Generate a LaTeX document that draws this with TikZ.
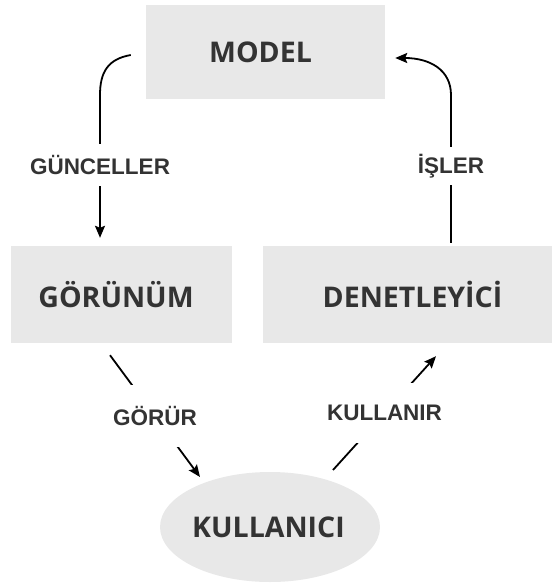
\documentclass[tikz,border=0pt]{standalone}
\usepackage{fontspec}
\setmainfont{Liberation Sans}
\newfontfamily\boxfont{Open Sans}
\usetikzlibrary{arrows.meta,shapes.geometric}
\definecolor{boxgray}{HTML}{E8E8E8}
\definecolor{txtgray}{HTML}{333333}
\begin{document}
\begin{tikzpicture}[x=1bp,y=-1bp,
  box/.style={fill=boxgray, draw=none, text=txtgray, inner sep=0pt,
    font=\boxfont\bfseries\fontsize{28.5bp}{32bp}\selectfont},
  lbl/.style={fill=white, text=txtgray, inner sep=0pt,
    font=\bfseries\fontsize{22.5bp}{26bp}\selectfont},
  conn/.style={line width=1.8bp, -{Stealth[length=12bp,width=10bp,inset=2bp]}},
  plainline/.style={line width=1.8bp}]
\useasboundingbox (0,0) rectangle (552,583);
\fill[white] (0,0) rectangle (552,583);

\node[box, minimum width=239bp, minimum height=94bp] (model) at (265.5,52) {MODEL\hspace*{10bp}};
\node[box, minimum width=221bp, minimum height=97bp] (gorunum) at (121.5,294.5) {GÖRÜNÜM\hspace*{11bp}};
\node[box, minimum width=289bp, minimum height=97bp] (denet) at (407.5,294.5) {\hspace*{10bp}DENETLEYİCİ};
\node[box, ellipse, minimum width=196bp, minimum height=110bp] (kul) at (270,527) {KULLANICI\hspace*{3bp}};

% MODEL -> GÖRÜNÜM
\draw[conn] ([xshift=-15bp,yshift=-3bp]model.west)
  .. controls (108,59) and (100,72) .. (100,95)
  -- (100,165) node[lbl, minimum height=42bp] (guncel) {GÜNCELLER}
  -- ([shift={(-21.5bp,8bp)}]gorunum.north);

% DENETLEYİCİ -> MODEL
\draw[conn] ([shift={(43.5bp,3bp)}]denet.north)
  -- (451,166) node[lbl, minimum height=38bp] (isler) {İŞLER}
  -- (451,95)
  .. controls (451,70) and (430,58) .. ([xshift=10bp,yshift=-6bp]model.east);

% GÖRÜNÜM -> KULLANICI
\draw[conn] ([shift={(-11.5bp,-12bp)}]gorunum.south)
  -- node[lbl, minimum height=62bp, minimum width=100bp] (gorur) {GÖRÜR}
  ([shift={(-70bp,50bp)}]kul.center);

% KULLANICI -> DENETLEYİCİ
\draw[conn] ([shift={(63bp,57bp)}]kul.center)
  -- node[lbl, minimum height=60bp, minimum width=125bp] (kullanir) {KULLANIR}
  ([shift={(28.5bp,-13bp)}]denet.south);
\end{tikzpicture}
\end{document}
